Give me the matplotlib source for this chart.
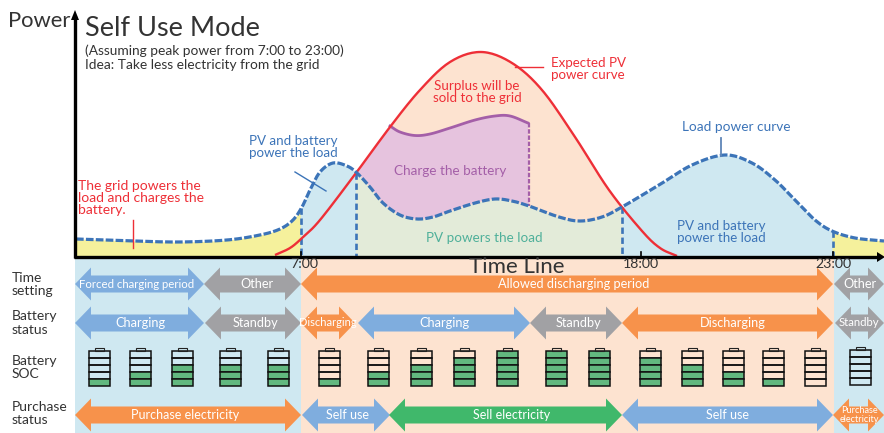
import numpy as np
import matplotlib
matplotlib.use("Agg")
import matplotlib.pyplot as plt
from matplotlib.patches import Polygon, Rectangle

plt.rcParams['font.family'] = ['Lato', 'DejaVu Sans']

# Curves (horizontal position, height position)
load_x = [76,105,133,180,227,260,280,293,302,310,320,333,347,357,370,383,400,417,433,450,475,495,512,529,559,580,602,622,659,692,725,752,775,795,815,832,855,884]
load_y = [239,240,241,242,240,235,229,220,207,190,172,163,166,173,187,203,215,219,217,211,203,199,201,206,217,221,217,207,185,165,155,163,180,200,220,231,238,241]
pv_x = [275,290,302,320,356,390,420,450,481,512,542,575,609,642,660,677]
pv_y = [255,248,238,220,173,127,90,62,52,63,90,137,190,231,248,256]
charge_x = [390,400,415,430,450,475,495,510,528]
charge_y = [126,132,135.5,134,128,120,116,116,123]

time_marks = ['7:00', '18:00', '23:00']
tick_pos = [301, 641, 833]
mark_pos = [304, 641, 833]
row_labels = ['Time\nsetting', 'Battery\nstatus', 'Battery\nSOC', 'Purchase\nstatus']

BLUE, GRAY, ORANGE, GREEN = '#7fadde', '#a1a1a4', '#f7924b', '#40b86b'
time_setting = [(75,204,BLUE,'Forced charging period',137),(204,301,GRAY,'Other',257),(301,833,ORANGE,'Allowed discharging period',574),(834,884,GRAY,'Other',860)]
battery_status = [(75,204,BLUE,'Charging',140),(205,301,GRAY,'Standby',256),(301,355,ORANGE,'Discharging',328),(358,530,BLUE,'Charging',444),(530,622,GRAY,'Standby',579),(622,833,ORANGE,'Discharging',733),(835,884,GRAY,'Standby',859)]
purchase_status = [(75,301,ORANGE,'Purchase electricity',185),(302,390,BLUE,'Self use',348),(389,622,GREEN,'Sell electricity',512),(622,833,BLUE,'Self use',727),(833,884,ORANGE,'Purchase\nelectricity',859)]
battery_pos = [99,140,182,230,278,329,378,421,464,507,556,599,650,692,733,773,815,860]
battery_soc = [1,2,3,3,3,1,2,3,4,5,5,5,4,3,2,1,0,0]

def smooth(px, py, n=14):
    p = np.column_stack([px, py]).astype(float)
    p = np.vstack([2*p[0]-p[1], p, 2*p[-1]-p[-2]])
    out = []
    t = np.linspace(0, 1, n, endpoint=False)[:, None]
    for i in range(1, len(p)-2):
        a, b, c, d = p[i-1], p[i], p[i+1], p[i+2]
        out.append(0.5*(2*b + (c-a)*t + (2*a-5*b+4*c-d)*t**2 + (3*b-a-3*c+d)*t**3))
    out.append(p[-2][None, :])
    q = np.vstack(out)
    return q[:, 0], q[:, 1]

fig = plt.figure(figsize=(8.84, 4.33), dpi=100)
ax = fig.add_axes([0, 0, 1, 1])
ax.set_xlim(0, 884); ax.set_ylim(433, 0); ax.axis('off')

C_BLUE, C_PEACH, C_YEL, C_GRN, C_PUR = '#cfe8f1', '#fde3d0', '#f5f19c', '#e3ebd9', '#e6c3de'
RED, LBLUE, PUR, TEAL, DARK = '#ee2f37', '#3c74b8', '#a45fa8', '#4fb09a', '#333333'
BASE = 257

# bottom bands
ax.add_patch(Rectangle((75, 258), 226, 175, fc=C_BLUE, ec='none'))
ax.add_patch(Rectangle((301, 258), 533, 175, fc=C_PEACH, ec='none'))
ax.add_patch(Rectangle((834, 258), 50, 175, fc=C_BLUE, ec='none'))

lx, ly = smooth(load_x, load_y)
vx, vy = smooth(pv_x, pv_y)
cx, cy = smooth(charge_x, charge_y)

ax.fill_between(vx, vy, BASE, color=C_PEACH, lw=0)
for a, b, col in [(76,301,C_YEL),(301,356,C_BLUE),(356,622,C_GRN),(622,833,C_BLUE),(833,884,C_YEL)]:
    m = (lx >= a-1) & (lx <= b+1)
    ax.fill_between(lx[m], ly[m], BASE, color=col, lw=0)

# battery-charge area: up the PV curve, along its top, back along the load curve
mv = (vx >= 356) & (vx <= 390)
ml = (lx >= 356) & (lx <= 529)
poly = np.vstack([np.column_stack([vx[mv], vy[mv]]), np.column_stack([cx, cy]),
                  np.column_stack([lx[ml][::-1], ly[ml][::-1]])])
ax.add_patch(Polygon(poly, closed=True, fc=C_PUR, ec='none'))
ax.plot(cx, cy, color=PUR, lw=2.0)
ax.plot([529, 529], [123, 206], color=PUR, lw=1.6, dashes=(2, 0.8))

# dashed drops
for x, top in [(301, 208), (356, 173), (622, 207), (833, 231)]:
    ax.plot([x, x], [top, BASE], color=LBLUE, lw=1.9, dashes=(2.4, 1.4))

ax.plot(vx, vy, color=RED, lw=1.7, solid_capstyle='butt')
ax.plot(lx, ly, color=LBLUE, lw=2.3, dashes=(2.4, 0.7))

# leader lines
ax.plot([133, 133], [220, 248], color=RED, lw=1.0)
ax.plot([295, 326], [172, 191], color=LBLUE, lw=1.0)
ax.plot([515, 543], [67, 67], color=RED, lw=1.0)
ax.plot([721, 721], [138, 156], color='#5f86b8', lw=1.3)

# axes
ax.plot([75, 75], [258, 16], color='black', lw=2.4, solid_capstyle='butt')
ax.add_patch(Polygon([[71, 20], [79, 20], [75, 10]], closed=True, fc='black', ec='none'))
ax.plot([73.8, 878], [257, 257], color='black', lw=2.4, solid_capstyle='butt')
ax.add_patch(Polygon([[877, 252], [877, 262], [885, 257]], closed=True, fc='black', ec='none'))
for x in tick_pos:
    ax.plot([x, x], [252, 257], color='black', lw=1.2)
for x, lab in zip(mark_pos, time_marks):
    ax.text(x, 264.5, lab, ha='center', va='center', fontsize=10.2, color=DARK)

# text
ax.text(8, 21, 'Power', fontsize=15.8, color=DARK, va='center')
ax.text(85, 28, 'Self Use Mode', fontsize=19.5, color=DARK, va='center')
ax.text(85, 51, '(Assuming peak power from 7:00 to 23:00)', fontsize=9.95, color=DARK, va='center')
ax.text(85, 65, 'Idea: Take less electricity from the grid', fontsize=9.9, color=DARK, va='center')
ax.text(78, 198, 'The grid powers the\nload and charges the\nbattery.', fontsize=10, color=RED, va='center', linespacing=1.05)
ax.text(249, 147, 'PV and battery\npower the load', fontsize=9.6, color=LBLUE, va='center', linespacing=1.05)
ax.text(477, 92, 'Surplus will be\nsold to the grid', fontsize=9.6, color=RED, va='center', ha='center', linespacing=1.05)
ax.text(551, 69, 'Expected PV\npower curve', fontsize=9.6, color=RED, va='center', linespacing=1.05)
ax.text(682, 127, 'Load power curve', fontsize=9.8, color=LBLUE, va='center')
ax.text(450, 171, 'Charge the battery', fontsize=9.7, color=PUR, va='center', ha='center')
ax.text(484, 238, 'PV powers the load', fontsize=9.7, color=TEAL, va='center', ha='center')
ax.text(677, 232, 'PV and battery\npower the load', fontsize=9.6, color=LBLUE, va='center', linespacing=1.05)
ax.text(517, 267, 'Time Line', fontsize=16, color=DARK, va='center', ha='center')

for lab, y in zip(row_labels, [284.5, 323, 367.5, 413.5]):
    ax.text(12, y, lab, fontsize=10, color=DARK, va='center', linespacing=1.1)

def darrow(a, b, yc, col, lab, cx, body=8.5, head=16.5, hw=16, fs=9.2):
    pts = [[a, yc], [a+hw, yc-head], [a+hw, yc-body], [b-hw, yc-body], [b-hw, yc-head], [b, yc],
           [b-hw, yc+head], [b-hw, yc+body], [a+hw, yc+body], [a+hw, yc+head]]
    ax.add_patch(Polygon(pts, closed=True, fc=col, ec='none'))
    ax.text(cx, yc, lab, color='white', fontsize=fs, ha='center', va='center', linespacing=1.0)

for a, b, c, l, x in time_setting:
    darrow(a, b, 284, c, l, x, fs=8.2 if l.startswith('Forced') else 9.2)
for a, b, c, l, x in battery_status:
    fs = 9.2
    if b-a < 60:
        fs = 8.2 if l == 'Standby' else 8
    darrow(a, b, 323, c, l, x, fs=fs)
for a, b, c, l, x in purchase_status:
    darrow(a, b, 415, c, l, x, fs=6.6 if '\n' in l else 9.0)

# batteries
for xc, soc in zip(battery_pos, battery_soc):
    dy = -1 if xc == 860 else 0
    top = 351 + dy
    h = 7
    for i in range(5):
        filled = (4 - i) < soc
        ax.add_patch(Rectangle((xc-10.5, top+i*h), 21, h, fc='#62b87f' if filled else 'none', ec='#111111', lw=1.1))
    ax.add_patch(Rectangle((xc-4.5, top-3.5), 9, 3.5, fc='none', ec='#222222', lw=0.8))

fig.savefig('out.png', dpi=100)
